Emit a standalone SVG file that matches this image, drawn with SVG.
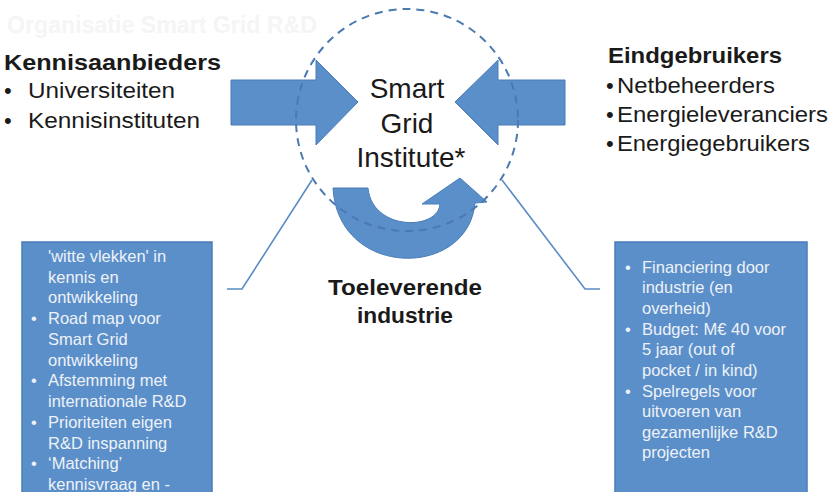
<svg xmlns="http://www.w3.org/2000/svg" width="833" height="492" viewBox="0 0 833 492">
<style>
.t{font-family:"Liberation Sans",Arial,sans-serif;fill:#1a1a1a}
.b{font-weight:bold}
.h{font-size:22px}
.c{font-size:28px;text-anchor:middle}
.bx{font-family:"Liberation Sans",Arial,sans-serif;font-size:16.5px;fill:#eef2f8}
.arrow{fill:#5b8fc9;stroke:#4a7db8;stroke-width:1}
.box{fill:#5b8fc9;stroke:#4a7db8;stroke-width:1.5}
.conn{fill:none;stroke:#5a8cc4;stroke-width:1.6}
</style>
<rect width="833" height="492" fill="#ffffff"/>
<text class="t b" x="7" y="33" font-size="24" style="fill:#f5f5f5" textLength="310" lengthAdjust="spacingAndGlyphs">Organisatie Smart Grid R&amp;D</text>

<g id="kennisaanbieders">
<text class="t b h" x="4" y="70" textLength="217" lengthAdjust="spacingAndGlyphs">Kennisaanbieders</text>
<text class="t h" x="4" y="98">•</text>
<text class="t h" x="28" y="98" textLength="147" lengthAdjust="spacingAndGlyphs">Universiteiten</text>
<text class="t h" x="4" y="128">•</text>
<text class="t h" x="28" y="128" textLength="172" lengthAdjust="spacingAndGlyphs">Kennisinstituten</text>
</g>

<g id="eindgebruikers">
<text class="t b h" x="608" y="63" textLength="174" lengthAdjust="spacingAndGlyphs">Eindgebruikers</text>
<text class="t h" x="606" y="93">•</text>
<text class="t h" x="617" y="93" textLength="158" lengthAdjust="spacingAndGlyphs">Netbeheerders</text>
<text class="t h" x="606" y="122">•</text>
<text class="t h" x="617" y="122" textLength="211" lengthAdjust="spacingAndGlyphs">Energieleveranciers</text>
<text class="t h" x="606" y="151">•</text>
<text class="t h" x="617" y="151" textLength="193" lengthAdjust="spacingAndGlyphs">Energiegebruikers</text>
</g>

<g id="arrows">
<path class="arrow" d="M231,80 L316,80 L316,60 L358,102 L316,145 L316,125 L231,125 Z"/>
<path class="arrow" d="M565,80 L498,80 L498,60 L455,102 L498,145 L498,125 L565,125 Z"/>
<path class="arrow" d="M333,188 L368,188 C372,231 438,231 440,204 L422,204 L460,178 L487,202 L475,203 C468,279 338,279 333,188 Z"/>
</g>

<g id="smart-grid-institute">
<circle cx="407" cy="120" r="111" fill="none" stroke="#4a7ab0" stroke-width="2" stroke-dasharray="8 6"/>
<text class="t c" x="407" y="98">Smart</text>
<text class="t c" x="407" y="133">Grid</text>
<text class="t c" x="411" y="167">Institute*</text>
</g>

<g id="toeleverende-industrie">
<text class="t b h" x="328" y="295" textLength="154" lengthAdjust="spacingAndGlyphs">Toeleverende</text>
<text class="t b h" x="357" y="323" textLength="96" lengthAdjust="spacingAndGlyphs">industrie</text>
</g>

<g id="connectors">
<polyline class="conn" points="312,180 242,289 227,289"/>
<polyline class="conn" points="502,180 585,289 600,289"/>
</g>

<g id="box-left">
<rect class="box" x="22" y="242" width="190" height="260"/>
<text class="bx" x="48" y="262">'witte vlekken' in</text>
<text class="bx" x="48" y="283">kennis en</text>
<text class="bx" x="48" y="303">ontwikkeling</text>
<text class="bx" x="31" y="324">•</text>
<text class="bx" x="48" y="324">Road map voor</text>
<text class="bx" x="48" y="345">Smart Grid</text>
<text class="bx" x="48" y="366">ontwikkeling</text>
<text class="bx" x="31" y="386">•</text>
<text class="bx" x="48" y="386">Afstemming met</text>
<text class="bx" x="48" y="407">internationale R&amp;D</text>
<text class="bx" x="31" y="428">•</text>
<text class="bx" x="48" y="428">Prioriteiten eigen</text>
<text class="bx" x="48" y="449">R&amp;D inspanning</text>
<text class="bx" x="31" y="469">•</text>
<text class="bx" x="48" y="469">‘Matching’</text>
<text class="bx" x="48" y="490">kennisvraag en -</text>
</g>

<g id="box-right">
<rect class="box" x="615" y="242" width="192" height="260"/>
<text class="bx" x="625" y="273">•</text>
<text class="bx" x="642" y="273">Financiering door</text>
<text class="bx" x="642" y="293">industrie (en</text>
<text class="bx" x="642" y="314">overheid)</text>
<text class="bx" x="625" y="335">•</text>
<text class="bx" x="642" y="335">Budget: M€ 40 voor</text>
<text class="bx" x="642" y="355">5 jaar (out of</text>
<text class="bx" x="642" y="376">pocket / in kind)</text>
<text class="bx" x="625" y="397">•</text>
<text class="bx" x="642" y="397">Spelregels voor</text>
<text class="bx" x="642" y="417">uitvoeren van</text>
<text class="bx" x="642" y="438">gezamenlijke R&amp;D</text>
<text class="bx" x="642" y="458">projecten</text>
</g>
</svg>
